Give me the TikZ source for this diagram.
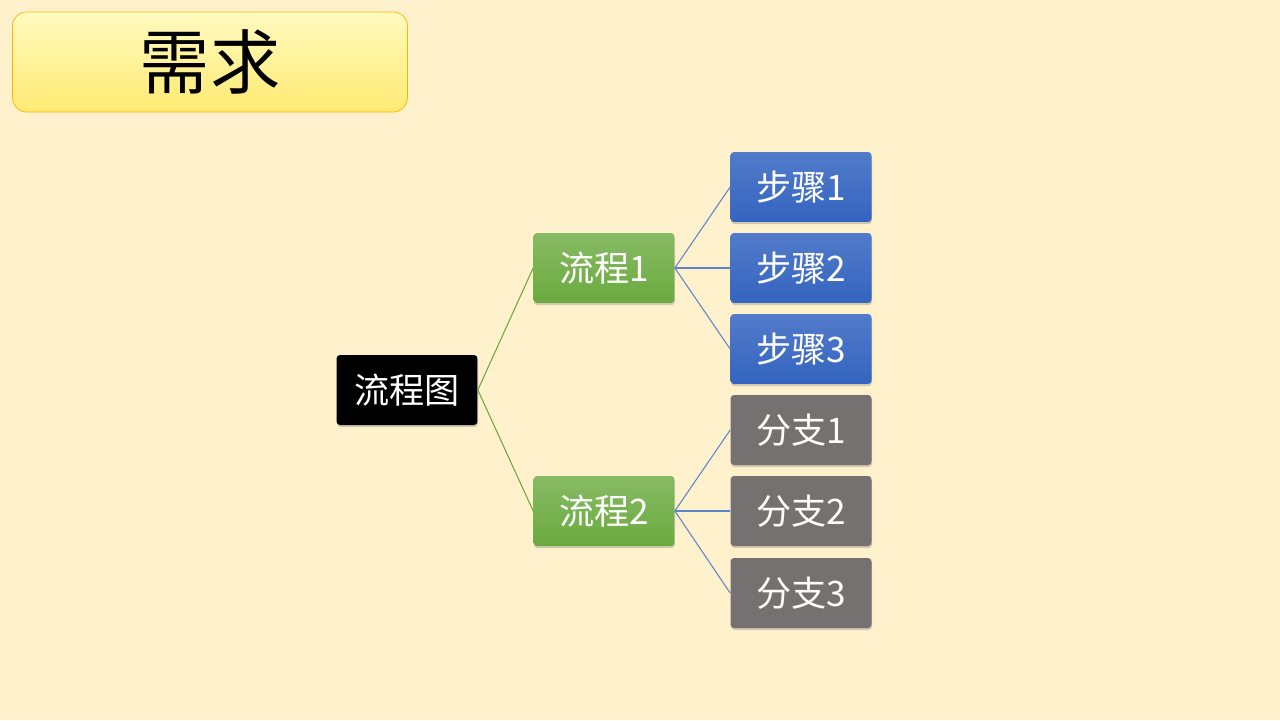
\documentclass[tikz,border=0pt]{standalone}
\usepackage{fontspec}
\newfontfamily\cjk{Noto Sans CJK SC}
\usetikzlibrary{shadows}
\definecolor{bgcol}{HTML}{FFF1CC}
\definecolor{flowgreen}{HTML}{6AAA3E}
\definecolor{stepblue}{HTML}{3464C0}
\definecolor{branchgray}{HTML}{767171}
\begin{document}
\begin{tikzpicture}[x=0.02cm,y=-0.02cm]
\tikzset{
  box/.style = {rectangle, rounded corners=2pt, minimum width=2.82cm, minimum height=1.4cm, text=white, font=\cjk\fontsize{20}{24}\selectfont, inner sep=0pt, drop shadow={shadow xshift=0.3pt, shadow yshift=-1.2pt, opacity=0.35}},
  rootbox/.style = {box, fill=black},
  flowbox/.style = {box, top color=flowgreen!80!white, bottom color=flowgreen},
  stepbox/.style = {box, top color=stepblue!85!white, bottom color=stepblue},
  branchbox/.style = {box, fill=branchgray},
  link/.style = {draw, line width=0.6pt}
}
\fill[bgcol] (0,0) rectangle (1280,720);
\node [rectangle, rounded corners=8pt, draw=orange!60!yellow, top color=orange!15!yellow!25, bottom color=orange!30!yellow!55, minimum width=7.9cm, minimum height=2cm, font=\cjk\fontsize{40}{48}\selectfont] (title) at (210,62) {需求};
\node [rootbox] (root) at (407,390) {流程图};
\node [flowbox] (flowA) at (604,268) {流程1};
\node [flowbox] (flowB) at (604,511) {流程2};
\node [stepbox] (stepA) at (801,187) {步骤1};
\node [stepbox] (stepB) at (801,268) {步骤2};
\node [stepbox] (stepC) at (801,349) {步骤3};
\node [branchbox] (branchA) at (801,430) {分支1};
\node [branchbox] (branchB) at (801,511) {分支2};
\node [branchbox] (branchC) at (801,593) {分支3};
\path [link, flowgreen] (root.east) -- (flowA.west);
\path [link, flowgreen] (root.east) -- (flowB.west);
\foreach \s in {stepA,stepB,stepC} \path [link, stepblue!80] (flowA.east) -- (\s.west);
\foreach \s in {branchA,branchB,branchC} \path [link, stepblue!80] (flowB.east) -- (\s.west);
\end{tikzpicture}
\end{document}
